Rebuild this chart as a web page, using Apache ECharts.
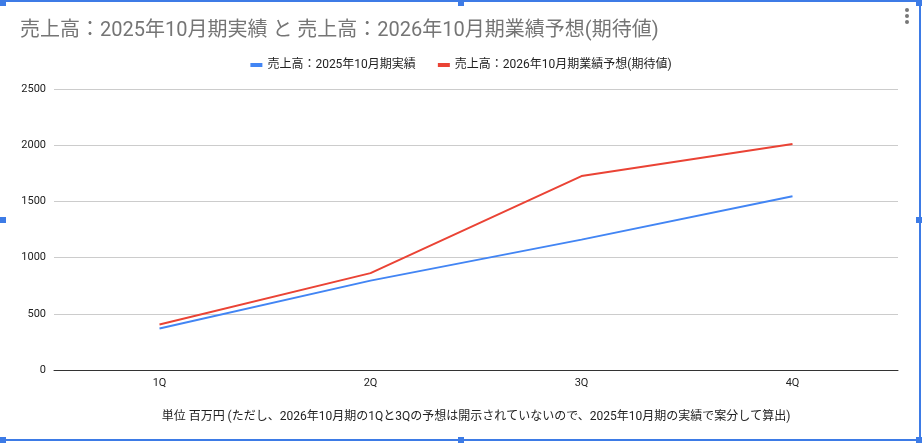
<!DOCTYPE html>
<html>
<head>
<meta charset="utf-8">
<script src="https://cdn.jsdelivr.net/npm/echarts@6/dist/echarts.min.js"></script>
<style>
  html, body { margin: 0; padding: 0; background: #fff; }
  #main { width: 922px; height: 443px; }
</style>
</head>
<body>
<div id="main"></div>
<script>
var quarters = ['1Q', '2Q', '3Q', '4Q'];
var actual2025 = [370, 795, 1160, 1545];
var forecast2026 = [405, 862, 1725, 2010];
var yTicks = [0, 500, 1000, 1500, 2000, 2500];

var seriesNames = ['売上高：2025年10月期実績', '売上高：2026年10月期業績予想(期待値)'];
var font = "Roboto, 'Noto Sans CJK JP', sans-serif";
var frameColor = '#3d7be6';

var myChart = echarts.init(document.getElementById('main'));

// 選択枠のハンドル
var handles = [[0, 0], [458, 0], [916, 0], [0, 217], [916, 217], [0, 437], [458, 437], [916, 437]];
var frame = [
    { type: 'rect', shape: { x: 0, y: 0, width: 922, height: 2 }, style: { fill: frameColor } },
    { type: 'rect', shape: { x: 919, y: 0, width: 2, height: 443 }, style: { fill: frameColor } },
    { type: 'rect', shape: { x: 0, y: 439, width: 922, height: 2 }, style: { fill: frameColor } }
];
handles.forEach(function (p) {
    frame.push({ type: 'rect', shape: { x: p[0], y: p[1], width: 6, height: 6 }, style: { fill: frameColor } });
});
[10, 16, 22].forEach(function (y) {
    frame.push({ type: 'circle', shape: { cx: 907, cy: y, r: 2 }, style: { fill: '#777' } });
});

myChart.setOption({
    backgroundColor: '#fff',
    textStyle: { fontFamily: font },
    title: {
        text: '売上高：2025年10月期実績 と 売上高：2026年10月期業績予想(期待値)',
        left: 20,
        top: 21,
        padding: 0,
        textStyle: { color: '#757575', fontSize: 20, fontWeight: 'normal', fontFamily: font }
    },
    legend: {
        top: 54,
        left: 'center',
        icon: 'rect',
        itemWidth: 12,
        itemHeight: 4,
        itemGap: 22,
        textStyle: { color: '#222', fontSize: 12, fontFamily: font },
        data: seriesNames
    },
    grid: { left: 54, right: 24, top: 89, bottom: 73, containLabel: false },
    xAxis: {
        type: 'category',
        data: quarters,
        boundaryGap: true,
        axisLine: { lineStyle: { color: '#333', width: 1 } },
        axisTick: { show: false },
        axisLabel: { color: '#222', fontSize: 11, margin: 8 },
        name: '単位 百万円 (ただし、2026年10月期の1Qと3Qの予想は開示されていないので、2025年10月期の実績で案分して算出)',
        nameLocation: 'middle',
        nameGap: 41,
        nameTextStyle: { color: '#222', fontSize: 12 }
    },
    yAxis: {
        type: 'value',
        min: yTicks[0],
        max: yTicks[yTicks.length - 1],
        interval: yTicks[1] - yTicks[0],
        axisLine: { show: false },
        axisTick: { show: false },
        axisLabel: {
            color: '#222',
            fontSize: 11,
            margin: 8,
            formatter: function (v) { return String(v); }
        },
        splitLine: { lineStyle: { color: '#ccc', width: 1 } }
    },
    series: [{
        name: seriesNames[0],
        type: 'line',
        data: actual2025,
        showSymbol: false,
        color: '#4285f4',
        lineStyle: { width: 2 }
    }, {
        name: seriesNames[1],
        type: 'line',
        data: forecast2026,
        showSymbol: false,
        color: '#ea4335',
        lineStyle: { width: 2 }
    }],
    graphic: frame
});
</script>
</body>
</html>
